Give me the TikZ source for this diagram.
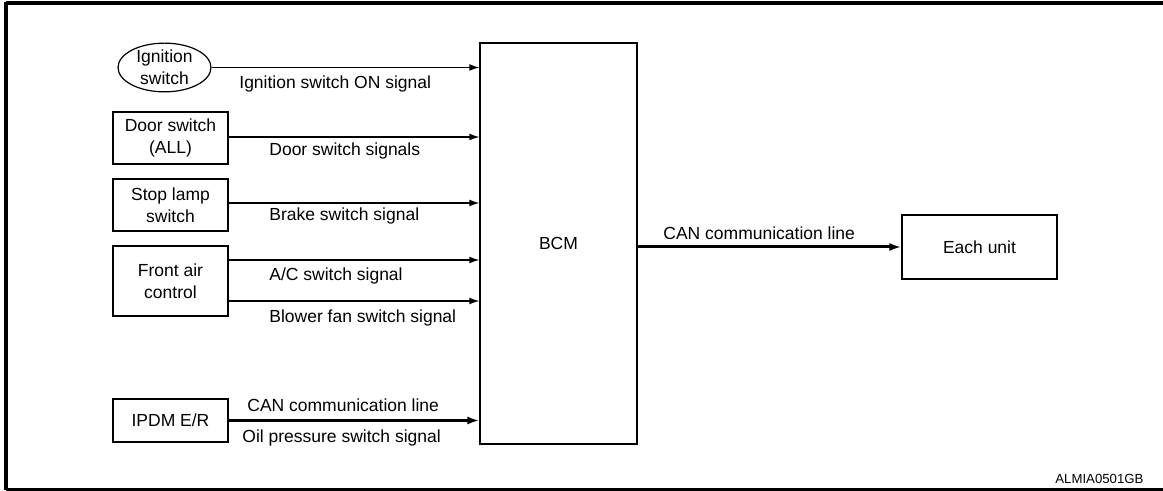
\documentclass[tikz,border=0pt]{standalone}
\usepackage{fontspec}
\setmainfont{Liberation Sans}
\usetikzlibrary{arrows.meta,shapes.geometric,calc}
\begin{document}
\begin{tikzpicture}[x=0.5pt,y=-0.5pt,
  font=\fontsize{8.75}{10.8}\selectfont,
  box/.style={draw,line width=0.6pt,inner sep=0pt,align=center},
  sig/.style={line width=0.6pt,-{Latex[length=5pt,width=3.4pt]}},
  can/.style={line width=1.5pt,-{Latex[length=6pt,width=4pt]}},
  lbl/.style={anchor=base west,inner sep=0pt}]
\useasboundingbox (0,0) rectangle (1163,491);
% outer frame (right edge runs off the sheet)
\draw[line width=2pt] (6,3.5) -- (1170,3.5);
\draw[line width=1.5pt] (6,489.5) -- (1170,489.5);
\draw[line width=2pt] (6,2.5) -- (6,490.5);

% units
\node[box,ellipse,minimum width=46.5pt,minimum height=22.5pt] (ign) at (164.5,67.5) {Ignition\\switch};
\node[box,minimum width=57.5pt,minimum height=26pt] (door) at (170.5,138) {Door switch\\(ALL)};
\node[box,minimum width=57.5pt,minimum height=26pt] (stop) at (170.5,205) {Stop lamp\\switch};
\node[box,minimum width=57.5pt,minimum height=35pt] (fac) at (170.5,281) {Front air\\control};
\node[box,minimum width=57.5pt,minimum height=21.5pt] (ipdm) at (170.5,420.5) {IPDM E/R};
\node[box,minimum width=78.5pt,minimum height=200.5pt] (bcm) at (558.5,243.5) {BCM};
\node[box,minimum width=77.5pt,minimum height=32pt] (eu) at (979.5,247) {Each unit};

% signal lines into the BCM
\draw[sig] (ign.east) -- (ign.east -| bcm.west);
\draw[sig] ([yshift=0.5pt]door.east) -- ([yshift=0.5pt]door.east -| bcm.west);
\draw[sig] ([yshift=1pt]stop.east) -- ([yshift=1pt]stop.east -| bcm.west);
\draw[sig] ([yshift=10.5pt]fac.east) -- ([yshift=10.5pt]fac.east -| bcm.west);
\draw[sig] ([yshift=-10pt]fac.east) -- ([yshift=-10pt]fac.east -| bcm.west);
\draw[can] (ipdm.east) -- (ipdm.east -| bcm.west);
\draw[can] (bcm.east |- eu.west) -- (eu.west);

% line labels
\node[lbl] (l1) at (239,88.5) {Ignition switch ON signal};
\node[lbl] (l2) at (269,156) {Door switch signals};
\node[lbl] (l3) at (269,221) {Brake switch signal};
\node[lbl] (l4) at (269,281) {A/C switch signal};
\node[lbl] (l5) at (269,322.5) {Blower fan switch signal};
\node[lbl] (l6) at (247,412) {CAN communication line};
\node[lbl] (l7) at (242,442.5) {Oil pressure switch signal};
\node[lbl] (l8) at (663,240) {CAN communication line};
\node[lbl,font=\fontsize{6.6}{8}\selectfont] (ref) at (1055,483.5) {ALMIA0501GB};
\end{tikzpicture}
\end{document}
